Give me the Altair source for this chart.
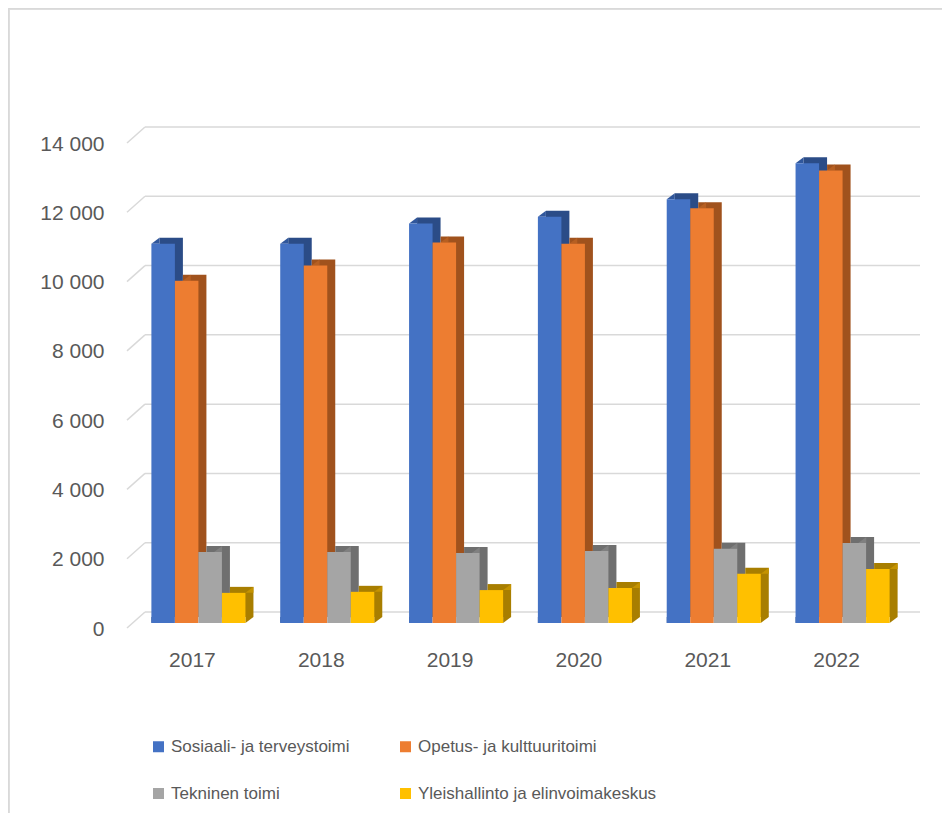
import altair as alt
import pandas as pd

years = ["2017", "2018", "2019", "2020", "2021", "2022"]
series = ["Sosiaali- ja terveystoimi", "Opetus- ja kulttuuritoimi",
          "Tekninen toimi", "Yleishallinto ja elinvoimakeskus"]
sosiaali = [10950, 10950, 11530, 11730, 12230, 13270]
opetus = [9880, 10320, 10980, 10950, 11970, 13060]
tekninen = [2050, 2050, 2020, 2080, 2140, 2310]
yleis = [870, 900, 950, 1010, 1420, 1560]

front_colors = ["#4472c4", "#ed7d31", "#a5a5a5", "#ffc000"]
side_colors = ["#2b4c87", "#a0521d", "#6f6f6f", "#a87e00"]
top_colors = ["#30579c", "#b65f22", "#808080", "#c49300"]

y_ticks = [0, 2000, 4000, 6000, 8000, 10000, 12000, 14000]

rows = []
for s, vals, side, top in zip(series, [sosiaali, opetus, tekninen, yleis], side_colors, top_colors):
    for yr, v in zip(years, vals):
        rows.append({"year": yr, "series": s, "value": v, "base": 0, "side": side, "top": top})
df = pd.DataFrame(rows)
grid_df = pd.DataFrame({"v": y_ticks})

text_color = "#595959"
font = "Liberation Sans"

PLOT_W = 773
STEP = PLOT_W / 6
BAND = STEP * (1 - 0.27)
SUB = BAND / 4
DEPTH_X = 8
DEPTH_Y = 6

x_axis = alt.Axis(title=None, domain=False, ticks=False, labelFontSize=21, labelFont=font,
                  labelColor=text_color, labelPadding=26, labelOffset=-6, labelAngle=0)
y_axis = alt.Axis(title=None, domain=False, ticks=False, tickSize=0, grid=False, values=y_ticks,
                  labelFontSize=21, labelFont=font, labelColor=text_color, labelPadding=30,
                  labelOffset=6, labelExpr="replace(format(datum.value, ','), ',', ' ')")

x_enc = alt.X("year:N", sort=years, axis=x_axis,
              scale=alt.Scale(paddingInner=0.27, paddingOuter=0.135))


def xo(shift):
    return alt.XOffset("series:N", sort=series,
                       scale=alt.Scale(paddingInner=0, paddingOuter=0,
                                       range=[shift, shift + BAND]))


y_scale = alt.Scale(domain=[0, 14000], nice=False)
y_enc = alt.Y("value:Q", scale=y_scale, axis=y_axis)

grid_color = "#d9d9d9"

grid = alt.Chart(grid_df).mark_rule(color=grid_color, strokeWidth=1.5, yOffset=-11, y2Offset=-11).encode(
    y=alt.Y("v:Q", scale=y_scale, axis=y_axis),
    x=alt.value(11), x2=alt.value(786),
)
diag = alt.Chart(grid_df).mark_rule(color=grid_color, strokeWidth=1.5, yOffset=5, y2Offset=-11).encode(
    y=alt.Y("v:Q", scale=y_scale, axis=y_axis),
    y2=alt.Y2("v:Q"),
    x=alt.value(-7), x2=alt.value(11),
)

back = alt.Chart(df).mark_bar(yOffset=-DEPTH_Y, y2Offset=-DEPTH_Y).encode(
    x=x_enc, xOffset=xo(DEPTH_X), y=y_enc,
    color=alt.Color("side:N", scale=None),
)

tri_top = alt.Chart(df).mark_point(shape="M-1,0.75 L1,-0.75 L1,0.75 Z", size=64, filled=True,
                                   opacity=1, strokeWidth=0, yOffset=-3).encode(
    x=x_enc, xOffset=xo(DEPTH_X / 2), y=y_enc,
    color=alt.Color("top:N", scale=None),
)
tri_bot = alt.Chart(df).mark_point(shape="M-1,-0.75 L1,-0.75 L-1,0.75 Z", size=64, filled=True,
                                   opacity=1, strokeWidth=0, yOffset=-3).encode(
    x=x_enc, xOffset=xo(DEPTH_X / 2), y=alt.Y("base:Q", scale=y_scale, axis=y_axis),
    color=alt.Color("side:N", scale=None),
)

front = alt.Chart(df).mark_bar().encode(
    x=x_enc, xOffset=xo(0), y=y_enc,
    color=alt.Color("series:N", sort=series,
                    scale=alt.Scale(domain=series, range=front_colors),
                    legend=alt.Legend(title=None, orient="none", legendX=16, legendY=600,
                                      columns=2, columnPadding=47, rowPadding=29,
                                      direction="horizontal",
                                      symbolType="square", symbolSize=121, symbolStrokeWidth=0,
                                      labelFontSize=17, labelFont=font, labelColor=text_color,
                                      labelOffset=4, labelLimit=400)),
)

frame_top = alt.Chart(grid_df).mark_rule(color="#d9d9d9", strokeWidth=1.5).encode(
    x=alt.value(-125.5), x2=alt.value(820), y=alt.value(-129.5))
frame_left = alt.Chart(grid_df).mark_rule(color="#d9d9d9", strokeWidth=1.5).encode(
    x=alt.value(-125.5), y=alt.value(-129.5), y2=alt.value(675))

chart = alt.layer(frame_top, frame_left, grid, diag, back, tri_top, tri_bot, front).resolve_scale(
    xOffset="independent"
).properties(
    width=PLOT_W, height=485,
    padding={"left": 126, "top": 130, "right": 35, "bottom": 190},
    autosize=alt.AutoSizeParams(type="none"),
).configure_view(stroke=None)

chart.save("out.html", embed_options={"renderer": "svg", "actions": False})
